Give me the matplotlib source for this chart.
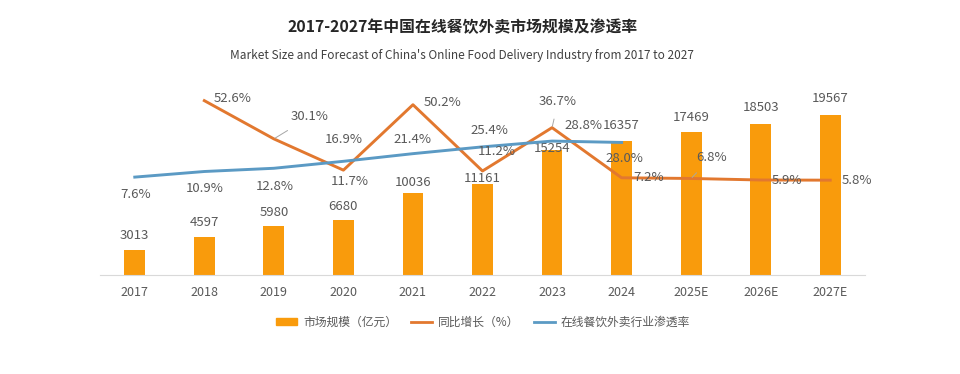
import matplotlib
matplotlib.use("Agg")
import matplotlib.pyplot as plt
import numpy as np
from matplotlib.patches import Patch
from matplotlib.lines import Line2D

plt.rcParams['font.family'] = ['Noto Sans CJK SC', 'DejaVu Sans']

years = ["2017", "2018", "2019", "2020", "2021", "2022", "2023", "2024", "2025E", "2026E", "2027E"]
market_size = [3013, 4597, 5980, 6680, 10036, 11161, 15254, 16357, 17469, 18503, 19567]
yoy_growth = [np.nan, 52.6, 30.1, 11.7, 50.2, 11.2, 36.7, 7.2, 6.8, 5.9, 5.8]
penetration = [7.6, 10.9, 12.8, 16.9, 21.4, 25.4, 28.8, 28.0]

# label offsets in pixels (dx, dy up)
bar_off = [15, 15, 14, 14, 10, 5, 2, 16, 15, 16, 16]
pen_off = [(1, -17), (0, -17), (1, -18), (0, 22), (0, 14), (7, 16), (31, 16), (3, -16)]
yoy_off = [None, (28, 2), (36, 22), (6, -11), (30, 2), (14, 19), (6, 26), (27, 0), (20, 21), (26, 0), (27, 0)]
yoy_leader = [False, False, True, False, False, False, True, False, True, False, False]

BAR = '#F99B0C'
ORANGE = '#E2782F'
BLUE = '#5B9AC4'
TXT = '#595959'

fig = plt.figure(figsize=(9.6, 3.74), dpi=100)
ax = fig.add_axes([100/960, 99/374, 765/960, 190/374])
x = np.arange(len(years))
ax.bar(x, market_size, width=0.3, color=BAR, zorder=1)
ax.set_xlim(-0.5, len(years) - 0.5)
ax.set_ylim(0, 23230)
ax.set_yticks([])
for s in ['top', 'right', 'left']:
    ax.spines[s].set_visible(False)
ax.spines['bottom'].set_color('#D9D9D9')
ax.set_xticks(x)
ax.set_xticklabels(years, fontsize=9, color=TXT)
ax.tick_params(axis='x', length=0, pad=8)

px = 0.72
for i, v in enumerate(market_size):
    ax.annotate(str(v), (x[i], v), xytext=(0, bar_off[i] * px), textcoords='offset points',
                ha='center', va='center', fontsize=9.5, color=TXT, zorder=5)

ax2 = ax.twinx()
ax2.set_ylim(-50, 61.8)
ax2.set_yticks([])
for s in ['top', 'right', 'left', 'bottom']:
    ax2.spines[s].set_visible(False)
ax2.plot(x, yoy_growth, color=ORANGE, lw=2.1, zorder=3)
ax2.plot(x[:len(penetration)], penetration, color=BLUE, lw=2.1, zorder=3)

for i, v in enumerate(penetration):
    dx, dy = pen_off[i]
    ax2.annotate(f"{v:.1f}%", (x[i], v), xytext=(dx * px, dy * px), textcoords='offset points',
                 ha='center', va='center', fontsize=9.5, color=TXT, zorder=5)
for i, v in enumerate(yoy_growth):
    if yoy_off[i] is None:
        continue
    dx, dy = yoy_off[i]
    ap = None
    if yoy_leader[i]:
        ap = dict(arrowstyle='-', color='#A6A6A6', lw=0.7, shrinkA=6, shrinkB=1)
    ax2.annotate(f"{v:.1f}%", (x[i], v), xytext=(dx * px, dy * px), textcoords='offset points',
                 ha='center', va='center', fontsize=9.5, color=TXT, zorder=5, arrowprops=ap)

fig.text(463/960, 1 - 27/374, "2017-2027年中国在线餐饮外卖市场规模及渗透率", ha='center', va='center',
         fontsize=11.4, fontweight='bold', color='#262626')
fig.text(462/960, 1 - 56/374, "Market Size and Forecast of China's Online Food Delivery Industry from 2017 to 2027",
         ha='center', va='center', fontsize=8.5, color='#404040')

handles = [Patch(color=BAR), Line2D([], [], color=ORANGE, lw=2), Line2D([], [], color=BLUE, lw=2)]
labels = ["市场规模（亿元）", "同比增长（%）", "在线餐饮外卖行业渗透率"]
leg = fig.legend(handles, labels, loc='center', bbox_to_anchor=(483/960, 1 - 322/374), ncol=3,
                 frameon=False, fontsize=8.5, handlelength=1.8, handleheight=0.6, columnspacing=1.2,
                 handletextpad=0.5)
for t in leg.get_texts():
    t.set_color(TXT)

fig.savefig("out.png", dpi=100, facecolor='white')
